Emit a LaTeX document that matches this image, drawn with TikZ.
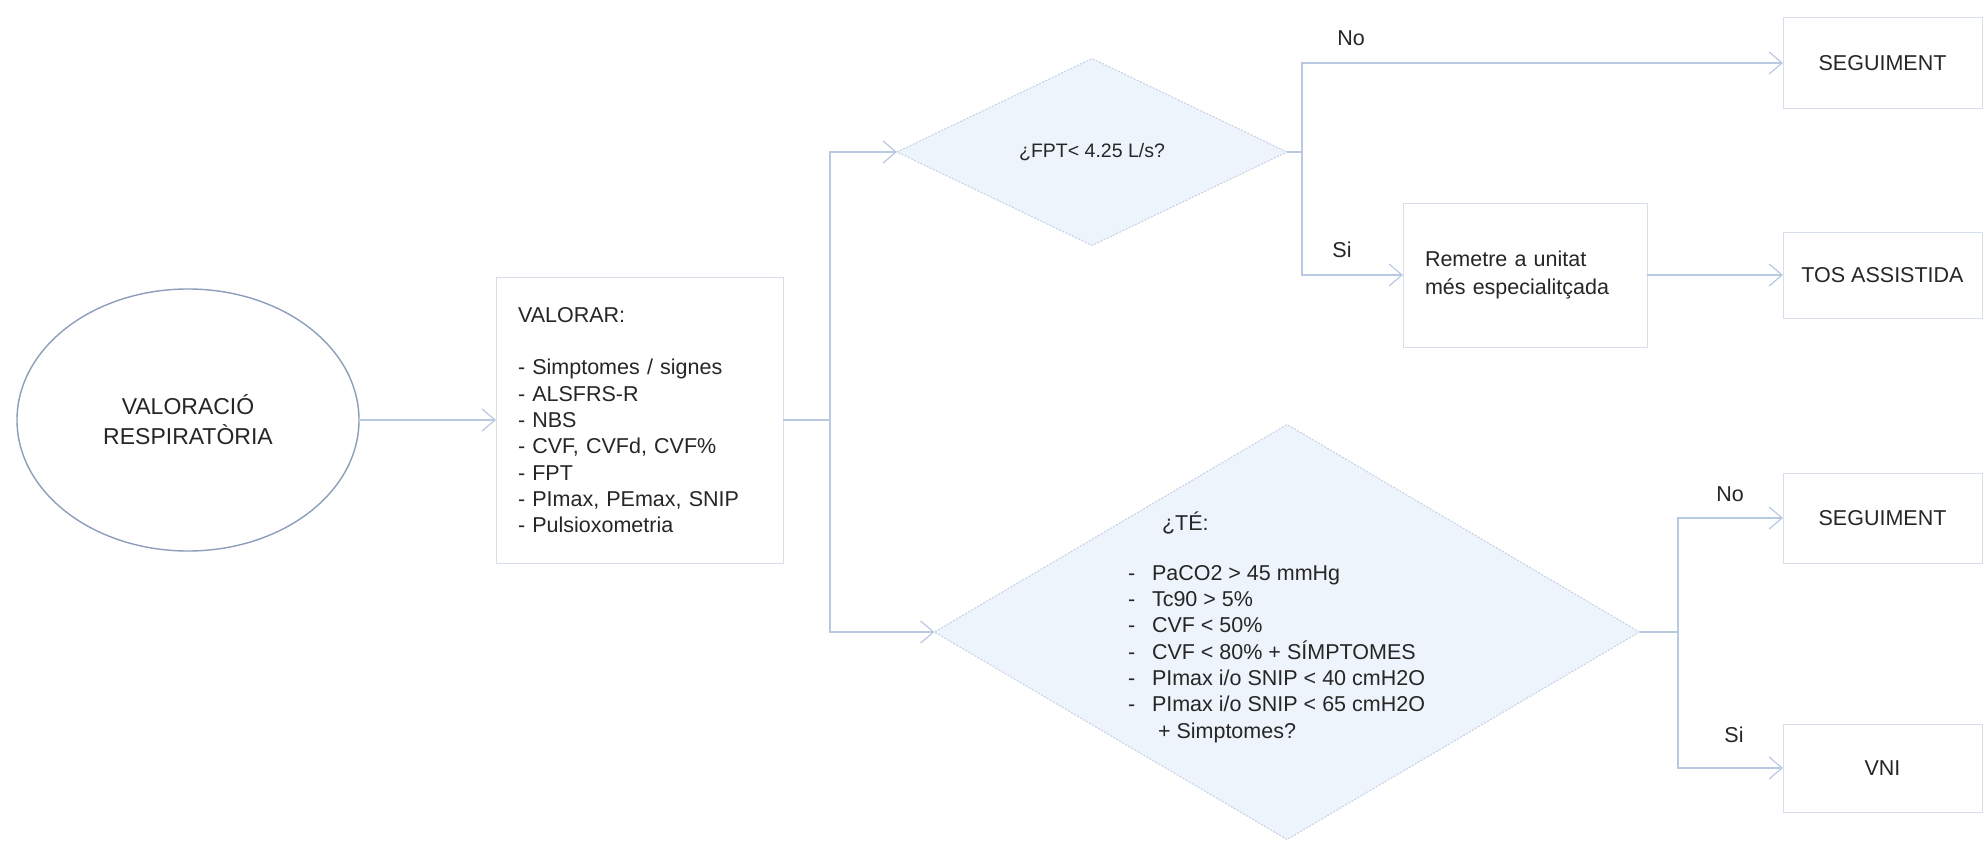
\documentclass[tikz,border=0pt]{standalone}
\usepackage{fontspec}
\setmainfont{Liberation Sans}
\usetikzlibrary{shapes.geometric,arrows.meta}
\definecolor{linec}{HTML}{B9C9E2}
\definecolor{boxc}{HTML}{D6DEEA}
\definecolor{ellc}{HTML}{8C9EB9}
\definecolor{diafill}{HTML}{EEF4FB}
\definecolor{diaborder}{HTML}{C3D1E4}
\definecolor{txt}{HTML}{262626}
\begin{document}
\begin{tikzpicture}[x=1pt,y=-1pt,
  conn/.style={draw=linec,line width=1.3pt},
  arr/.style={conn,-{Straight Barb[length=13pt,width=22pt,line width=1.2pt]}},
  lbl/.style={text=txt,font=\fontsize{21.5}{26.3}\selectfont,inner sep=0pt,outer sep=0pt},
  box/.style={lbl,rectangle,draw=boxc,line width=1pt,fill=white},
  dia/.style={diamond,draw=diaborder,dash pattern=on 2pt off 1.5pt,line width=1pt,fill=diafill,inner sep=0pt,outer sep=0pt},
  ell/.style={ellipse,draw=ellc,line width=1.4pt,fill=white,inner sep=0pt,outer sep=0pt,align=center,text=txt,font=\fontsize{23}{30}\selectfont}
]
\useasboundingbox (0,0) rectangle (1984,843);
\fill[white] (0,0) rectangle (1984,843);

% nodes
\node[ell,minimum width=342pt,minimum height=262pt] (resp) at (188,420) {VALORACIÓ\\RESPIRATÒRIA};

\node[box,minimum width=287pt,minimum height=286pt,inner xsep=22pt,text width=243pt,align=left] (val) at (639.5,420)
 {VALORAR:\\[26.3pt]- Simptomes / signes\\- ALSFRS-R\\- NBS\\- CVF, CVFd, CVF\%\\- FPT\\- PImax, PEmax, SNIP\\- Pulsioxometria};

\node[dia,minimum width=390pt,minimum height=187pt,aspect=2.1,text=txt,font=\fontsize{19.5}{24}\selectfont] (fpt) at (1092,152) {¿FPT< 4.25 L/s?};

\node[dia,minimum width=705pt,minimum height=415pt] (te) at (1287,632) {};
\node[lbl,anchor=base west] (tetxt) at (1128,530) {\begin{tabular}[t]{@{}l@{}}
\hspace{34pt}¿TÉ:\\[23.7pt]
\makebox[24pt][l]{-}PaCO2 > 45 mmHg\\
\makebox[24pt][l]{-}Tc90 > 5\%\\
\makebox[24pt][l]{-}CVF < 50\%\\
\makebox[24pt][l]{-}CVF < 80\% + SÍMPTOMES\\
\makebox[24pt][l]{-}PImax i/o SNIP < 40 cmH2O\\
\makebox[24pt][l]{-}PImax i/o SNIP < 65 cmH2O\\
\hspace{30pt}+ Simptomes?
\end{tabular}};

\node[box,minimum width=244pt,minimum height=144pt,inner xsep=22pt,text width=200pt,align=left,font=\fontsize{21.5}{27.5}\selectfont] (rem) at (1525,275) {Remetre a unitat\\més especialitçada};

\node[box,minimum width=199pt,minimum height=91pt] (seg1) at (1882.5,63) {SEGUIMENT};
\node[box,minimum width=199pt,minimum height=86pt] (tos) at (1882.5,275) {TOS ASSISTIDA};
\node[box,minimum width=199pt,minimum height=90pt] (seg2) at (1882.5,518) {SEGUIMENT};
\node[box,minimum width=199pt,minimum height=88pt] (vni) at (1882.5,768) {VNI};

\node[lbl] (no1) at (1351,38) {No};
\node[lbl] (si1) at (1342,250) {Si};
\node[lbl] (no2) at (1730,494) {No};
\node[lbl] (si2) at (1734,735) {Si};

% junctions
\coordinate (j0) at (830,420);
\coordinate (j1) at (1302,152);
\coordinate (j2) at (1678,632);

% connectors
\draw[arr] (resp.east) -- (val.west);
\draw[conn] (val.east) -- (j0);
\draw[arr] (j0) |- (fpt.west);
\draw[arr] (j0) |- (te.west);
\draw[conn] (fpt.east) -- (j1);
\draw[arr] (j1) |- (seg1.west);
\draw[arr] (j1) |- (rem.west);
\draw[arr] (rem.east) -- (tos.west);
\draw[conn] (te.east) -- (j2);
\draw[arr] (j2) |- (seg2.west);
\draw[arr] (j2) |- (vni.west);
\end{tikzpicture}
\end{document}
